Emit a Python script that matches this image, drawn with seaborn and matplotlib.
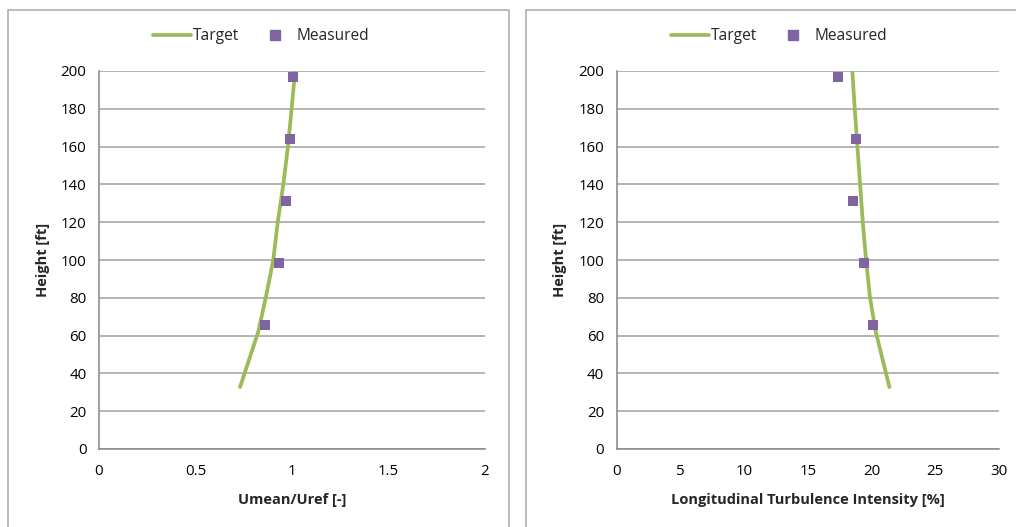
import matplotlib
matplotlib.use("Agg")
import matplotlib.pyplot as plt
import seaborn as sns
import pandas as pd
from matplotlib.patches import Rectangle
from matplotlib.lines import Line2D

# ---- data ----
target_height = [32.8, 62, 80, 100, 120, 140, 160, 180, 200]
target_umean = [0.731, 0.825, 0.864, 0.903, 0.926, 0.955, 0.979, 0.998, 1.016]
target_ti = [21.40, 20.33, 19.88, 19.57, 19.31, 19.10, 18.89, 18.68, 18.49]

measured_height = [65.6, 98.4, 131.2, 164.0, 196.8]
measured_umean = [0.862, 0.934, 0.970, 0.991, 1.007]
measured_ti = [20.14, 19.43, 18.57, 18.81, 17.39]

y_ticks = [0, 20, 40, 60, 80, 100, 120, 140, 160, 180, 200]
x_ticks_left = [0, 0.5, 1, 1.5, 2]
x_ticks_right = [0, 5, 10, 15, 20, 25, 30]

GREEN = "#9BBB59"
PURPLE = "#8064A2"
GRID = "#A0A0A0"
AXIS = "#868686"

sns.set_theme(style="white")
plt.rcParams["font.family"] = ["Open Sans", "DejaVu Sans"]

fig = plt.figure(figsize=(10.16, 5.27), dpi=100)
W, H = 1016, 527

# panel borders
for (x0, x1) in [(8, 509), (526, 1030)]:
    fig.patches.append(Rectangle((x0 / W, -0.05), (x1 - x0) / W, 1 - 10 / H + 0.05,
                                 transform=fig.transFigure, fill=False,
                                 edgecolor="#B0B0B0", linewidth=1.2))

tdf = pd.DataFrame({"h": target_height, "u": target_umean, "ti": target_ti})
mdf = pd.DataFrame({"h": measured_height, "u": measured_umean, "ti": measured_ti})

def make_axes(rect, xcol, xticks, xlim, xlabel, legend_cx):
    ax = fig.add_axes(rect)
    sns.lineplot(data=tdf, x=xcol, y="h", sort=False, ax=ax, color=GREEN,
                 linewidth=2.7, estimator=None, zorder=3)
    sns.scatterplot(data=mdf, x=xcol, y="h", ax=ax, marker="s", color=PURPLE,
                    s=55, linewidth=0, zorder=4)
    ax.set_xlim(*xlim)
    ax.set_ylim(0, 200)
    ax.set_xticks(xticks)
    ax.set_xticklabels([f"{t:g}" for t in xticks])
    ax.set_yticks(y_ticks)
    ax.yaxis.grid(True, color=GRID, linewidth=1.1)
    ax.xaxis.grid(False)
    for s in ["top", "right"]:
        ax.spines[s].set_visible(False)
    for s in ["left", "bottom"]:
        ax.spines[s].set_color(AXIS)
        ax.spines[s].set_linewidth(1.1)
    ax.tick_params(axis="both", which="major", length=5, width=1.1, color=AXIS,
                   labelsize=10.8, labelcolor="#000000", direction="out")
    ax.tick_params(axis="x", pad=6)
    ax.tick_params(axis="y", pad=4)
    ax.set_xlabel(xlabel, fontsize=10.5, fontweight="bold", labelpad=10)
    ax.set_ylabel("Height [ft]", fontsize=10.5, fontweight="bold", labelpad=8)
    handles = [Line2D([], [], color=GREEN, linewidth=2.7),
               Line2D([], [], color=PURPLE, marker="s", linestyle="none", markersize=7)]
    fig.legend(handles, ["Target", "Measured"], loc="center",
               bbox_to_anchor=(legend_cx / W, 1 - 36 / H), ncol=2, frameon=False,
               fontsize=11.2, handlelength=2.4, handletextpad=0.15, columnspacing=1.1)
    return ax

make_axes([99 / W, 1 - 449 / H, 386 / W, 378 / H], "u", x_ticks_left, (0, 2),
          "Umean/Uref [-]", 261)
make_axes([616.7 / W, 1 - 449 / H, 382.3 / W, 378 / H], "ti", x_ticks_right, (0, 30),
          "Longitudinal Turbulence Intensity [%]", 779)

fig.savefig("out.png", dpi=100)
